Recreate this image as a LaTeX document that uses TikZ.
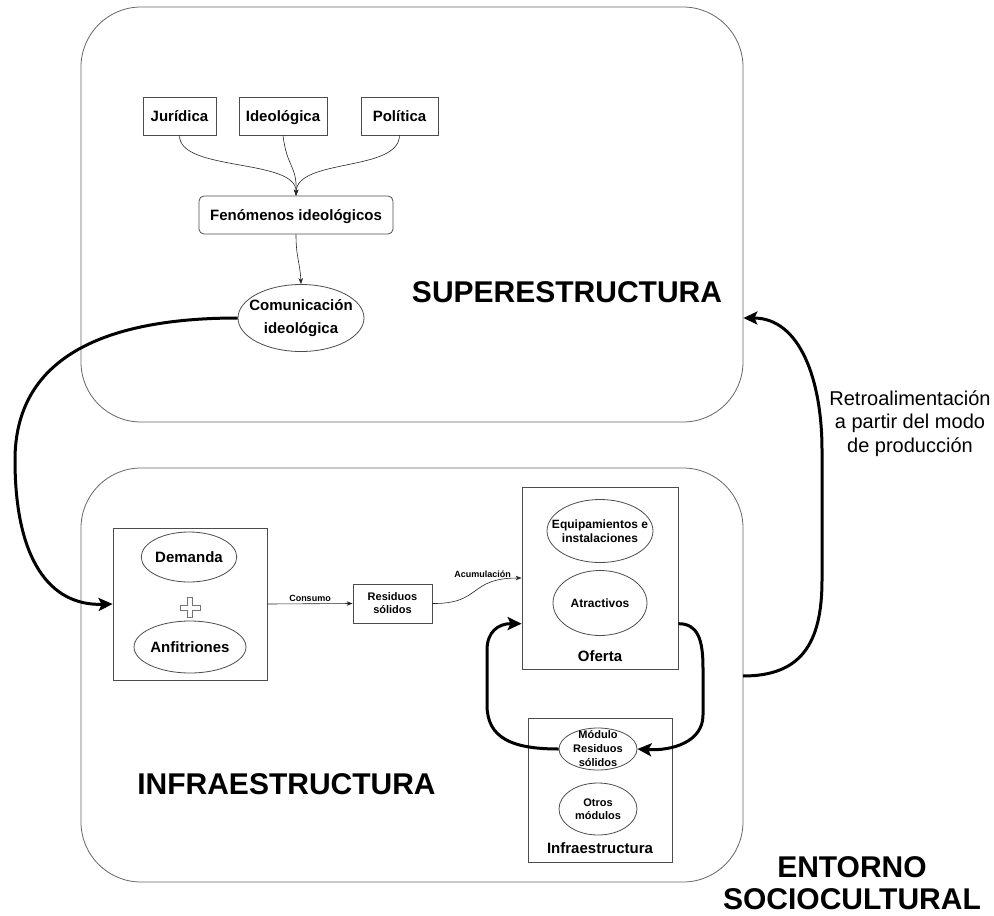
\documentclass[tikz,border=0pt]{standalone}
\usepackage{fontspec}
\setmainfont{Liberation Sans}
\usetikzlibrary{shapes.geometric,arrows.meta,calc}
\begin{document}
\begin{tikzpicture}[x=1pt,y=-1pt,
  container/.style={draw=black!60, line width=0.8pt, rounded corners=60pt, inner sep=0pt},
  sqbox/.style={draw=black!70, line width=0.8pt, inner sep=0pt, text height=12.5pt, text depth=2pt, font=\bfseries\fontsize{15}{18}\selectfont},
  ell/.style={ellipse, draw=black!70, line width=0.8pt, inner sep=0pt},
  etext/.style={font=\bfseries\fontsize{12}{14}\selectfont, align=center, inner sep=0pt},
  thinarrow/.style={draw=black!85, line width=0.6pt, -{Stealth[length=6pt,width=4.5pt]}},
  thickarrow/.style={line width=3pt, -{Stealth[length=14pt,width=13pt,inset=3pt]}},
  bigtitle/.style={font=\bfseries\fontsize{30}{36}\selectfont, inner sep=0pt, anchor=base}
]
\useasboundingbox (0,0) rectangle (994,916);

% containers
\node[container, minimum width=662pt, minimum height=415pt] (sup) at (412,214.5) {};
\node[container, minimum width=662pt, minimum height=414pt] (inf) at (412,675) {};

% superestructura
\node[sqbox, minimum width=73pt, minimum height=38pt] (jur) at (179.5,116) {Jurídica};
\node[sqbox, minimum width=88pt, minimum height=38pt] (ideo) at (283,116) {Ideológica};
\node[sqbox, minimum width=77pt, minimum height=38pt] (pol) at (399.5,116) {Política};
\node[sqbox, rounded corners=5pt, minimum width=194pt, minimum height=38pt] (fen) at (296,215) {Fenómenos ideológicos};
\node[ell, minimum width=126pt, minimum height=67pt] (com) at (301,318) {};
\node[font=\bfseries\fontsize{15}{23}\selectfont, align=center, inner sep=0pt] (comt) at (com.center) {Comunicación\\ideológica};

\node[bigtitle] (suptitle) at (567,302) {SUPERESTRUCTURA};

\draw[thinarrow] (jur.south) .. controls (179,172) and (297,158) .. (fen.north);
\draw[thinarrow] (ideo.south) .. controls (287,168) and (297,165) .. (fen.north);
\draw[thinarrow] (pol.south) .. controls (399,172) and (297,158) .. (fen.north);
\draw[thinarrow] (fen.south) .. controls (296,258) and (300,262) .. (com.north);

% infraestructura
\node[sqbox, minimum width=154pt, minimum height=152pt] (lbox) at (190,604) {};
\node[ell, minimum width=90pt, minimum height=50pt, font=\bfseries\fontsize{15}{18}\selectfont] (dem) at (189,557) {Demanda};
\node[ell, minimum width=96pt, minimum height=52pt, font=\bfseries\fontsize{15}{18}\selectfont] (anf) at (190,647) {Anfitriones};
\draw[draw=black!55, line width=0.7pt] (187.5,597.5) -- (192.5,597.5) -- (192.5,605) -- (200,605) -- (200,610) -- (192.5,610) -- (192.5,617.5) -- (187.5,617.5) -- (187.5,610) -- (180,610) -- (180,605) -- (187.5,605) -- cycle;

\node[draw=black!70, line width=0.8pt, inner sep=0pt, minimum width=79pt, minimum height=39pt, align=center, font=\bfseries\fontsize{11}{13}\selectfont] (res) at (392.5,603.5) {Residuos\\sólidos};

\node[sqbox, minimum width=156pt, minimum height=182pt] (of) at (600,578) {};
\node[ell, minimum width=106pt, minimum height=63pt] (eq) at (600,531) {};
\node[etext] (eqt) at (eq.center) {Equipamientos e\\instalaciones};
\node[ell, minimum width=94pt, minimum height=65pt] (atr) at (600,603) {};
\node[etext] (atrt) at (atr.center) {Atractivos};
\node[font=\bfseries\fontsize{15}{18}\selectfont, inner sep=0pt] (oft) at ($(of.south)+(0,-13)$) {Oferta};

\node[sqbox, minimum width=144pt, minimum height=144pt] (ib) at (600,790) {};
\node[ell, minimum width=78pt, minimum height=42pt] (mod) at (598,749) {};
\node[font=\bfseries\fontsize{11}{14}\selectfont, align=center, inner sep=0pt] (modt) at (mod.center) {Módulo\\Residuos\\sólidos};
\node[ell, minimum width=78pt, minimum height=52pt] (otr) at (598,809) {};
\node[font=\bfseries\fontsize{11}{13.5}\selectfont, align=center, inner sep=0pt] (otrt) at (otr.center) {Otros\\módulos};
\node[font=\bfseries\fontsize{15}{18}\selectfont, inner sep=0pt] (ibt) at ($(ib.south)+(0,-14)$) {Infraestructura};

\node[bigtitle] (inftitle) at (286.5,794) {INFRAESTRUCTURA};
\node[bigtitle] (ent1) at (852,877) {ENTORNO};
\node[bigtitle] (ent2) at (852,909) {SOCIOCULTURAL};

\node[font=\fontsize{20}{23.5}\selectfont, align=center, inner sep=0pt, anchor=base] (retro) at (910,452) {Retroalimentación\\a partir del modo\\de producción};

% thin connectors
\draw[thinarrow] (lbox.east) -- node[above=1pt, font=\bfseries\fontsize{9}{10}\selectfont, inner sep=1pt] {Consumo} (res.west);
\draw[thinarrow] (res.east) .. controls (482,604) and (468,578) .. node[pos=0.62, above=8pt, font=\bfseries\fontsize{9}{10}\selectfont, inner sep=1pt] {Acumulación} (of.west);

% thick connectors
\coordinate (ofl) at ($(of.south west)!0.25!(of.north west)$);
\coordinate (ofr) at ($(of.south east)!0.25!(of.north east)$);
\coordinate (infr) at (743,676);
\draw[thickarrow] (mod.west) .. controls (512,749) and (487,738) .. (487,705) -- (487,650) .. controls (487,632) and (498,623.5) .. (ofl);
\draw[thickarrow] (ofr) .. controls (698,623.5) and (703,640) .. (703,668) -- (703,715) .. controls (703,742) and (672,751) .. (mod.east);
\draw[thickarrow] (com.west) .. controls (100,318) and (15,360) .. (15,460) .. controls (15,560) and (50,606) .. (lbox.west);
\draw[thickarrow] (infr) .. controls (800,676) and (822,645) .. (822,580) -- (822,450) .. controls (822,380) and (800,318) .. (sup.east |- com.center);
\end{tikzpicture}
\end{document}
